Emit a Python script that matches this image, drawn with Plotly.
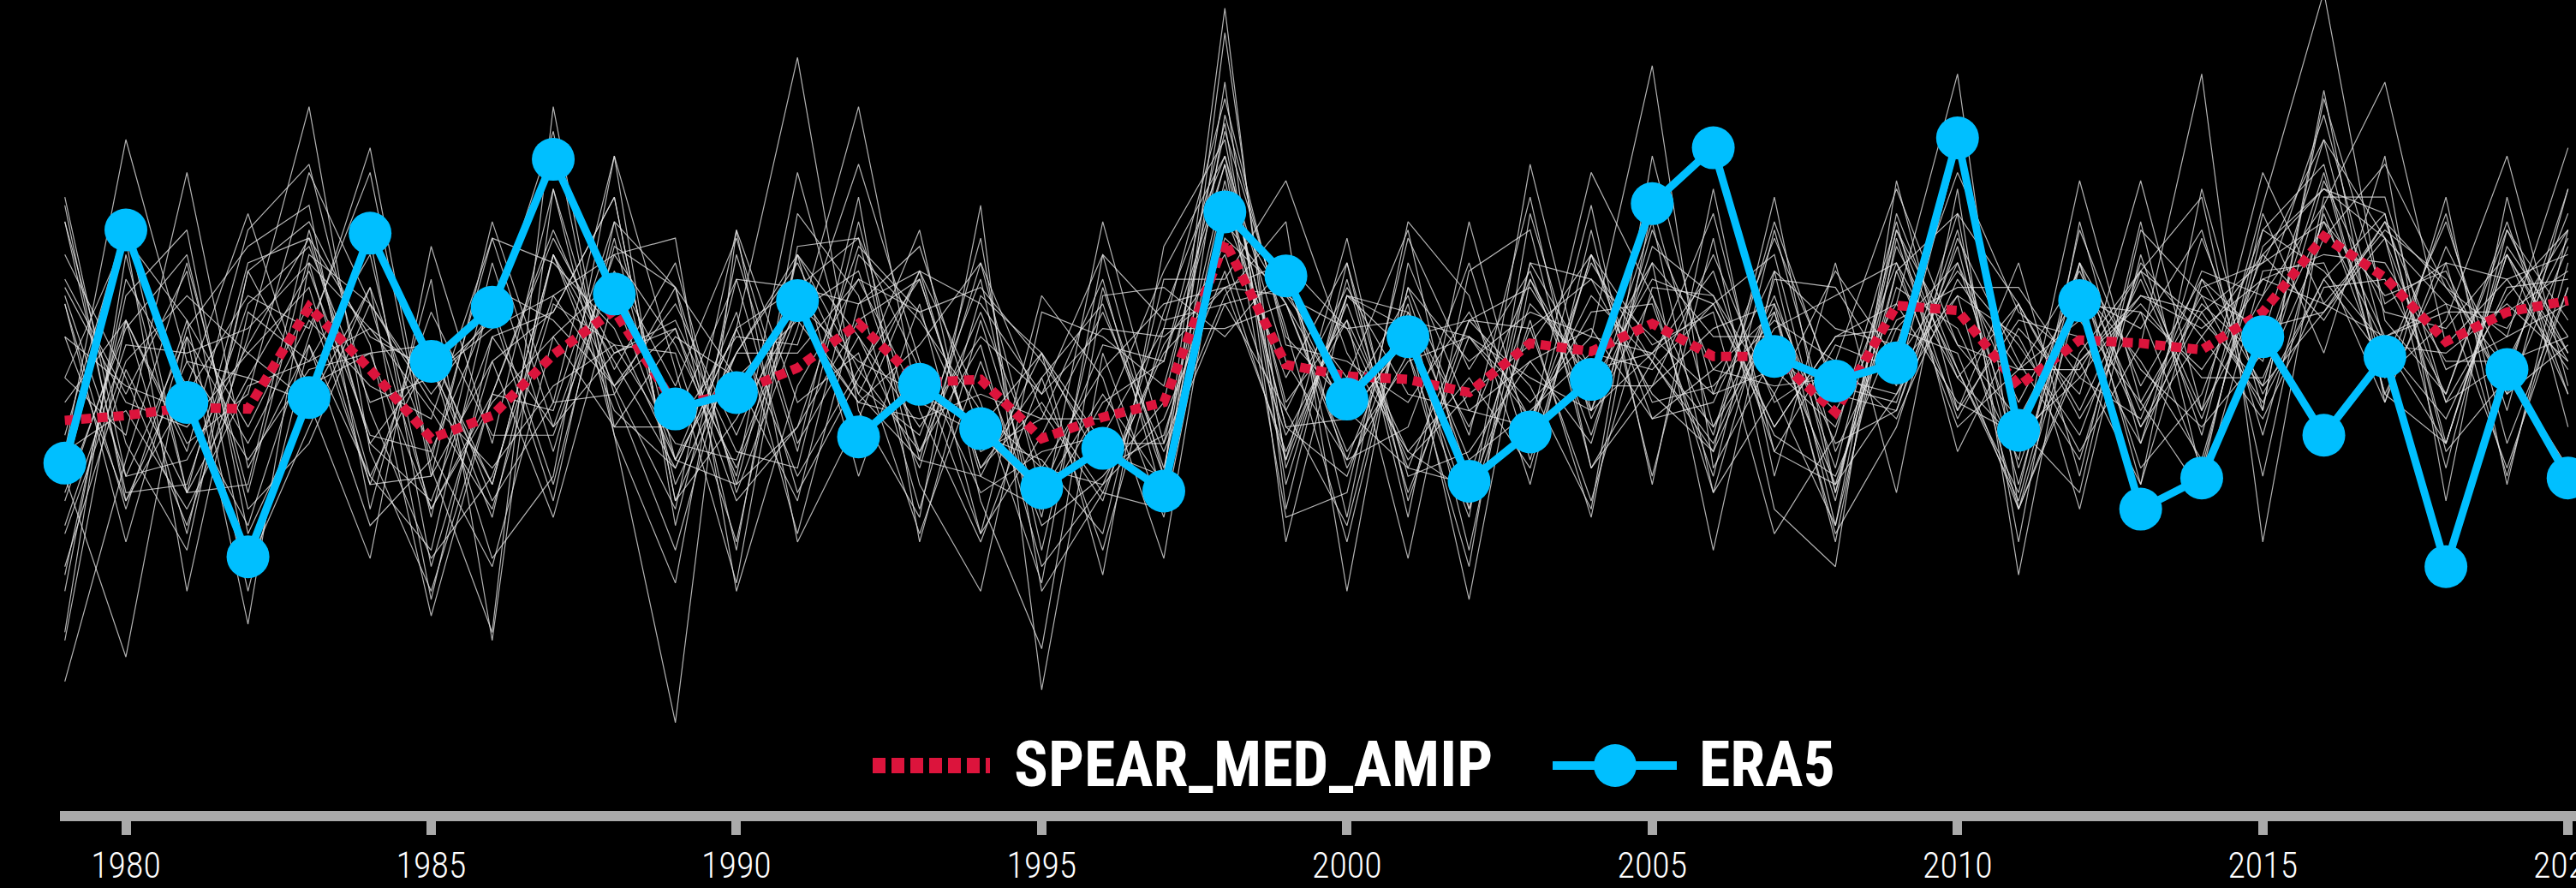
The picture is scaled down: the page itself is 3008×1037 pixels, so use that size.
import plotly.graph_objects as go

years = list(range(1979, 2021))

era5 = [-1.04, 1.80, -0.30, -2.18, -0.24, 1.76, 0.20, 0.86, 2.66, 1.02,
        -0.38, -0.18, 0.94, -0.72, -0.08, -0.62, -1.34, -0.86, -1.38, 2.02,
        1.24, -0.26, 0.50, -1.26, -0.66, -0.02, 2.12, 2.80, 0.26, -0.04,
        0.18, 2.92, -0.64, 0.94, -1.60, -1.22, 0.50, -0.70, 0.26, -2.30,
        0.10, -1.22]

spear_mean = [-0.52, -0.46, -0.36, -0.38, 0.86, 0.10, -0.74, -0.46, 0.28, 0.82,
              -0.34, -0.18, 0.12, 0.66, -0.06, -0.02, -0.74, -0.48, -0.30, 1.66,
              0.16, 0.02, -0.02, -0.18, 0.42, 0.32, 0.66, 0.26, 0.26, -0.42,
              0.88, 0.82, -0.10, 0.46, 0.42, 0.34, 0.80, 1.72, 1.22, 0.44,
              0.80, 0.94]

m01 = [1.5,0.0,-1.8,0.5,3.3,-0.9,-2.6,-0.2,1.8,0.1, 1.4,-1.4,0.6,3.3,-0.4,-2.0,0.0,0.9,-1.2,3.6, -2.0,1.0,0.3,-1.7,2.6,-0.4,1.9,-1.4,1.2,1.1, -0.1,2.8,-0.6,-1.4,1.8,1.0,-0.4,3.4,0.9,1.4, -1.2,1.4]
m02 = [-2.4,1.0,1.8,-1.9,-0.3,1.8,0.2,-2.2,-1.2,2.7, -1.8,1.2,-1.4,0.0,1.8,-1.5,-3.3,1.0,1.1,0.5, 1.4,-1.7,1.9,1.0,-1.3,1.8,-1.2,1.7,-1.6,-2.3, 2.4,-0.4,1.4,-1.2,1.9,-1.2,2.0,0.3,2.7,-1.5, 2.2,-0.6]
m03 = [0.9,-2.0,0.6,1.6,2.1,-1.6,1.2,-3.2,2.3,-0.2, 1.1,-2.1,2.0,1.0,-1.6,1.0,0.3,-2.4,1.6,2.9, -1.0,1.7,-1.5,0.7,-0.1,-1.6,2.7,-0.2,1.7,-0.1, -0.3,2.0,-2.0,1.9,-0.8,1.7,-0.2,1.2,0.2,1.9, -0.4,2.3]
m04 = [-1.2,1.7,-2.6,0.8,0.2,1.5,-1.7,1.4,-0.9,1.7, -1.3,0.3,1.5,-1.2,0.9,-1.9,1.0,0.0,-2.2,2.2, 0.9,-1.0,0.9,-2.1,1.4,1.2,-0.2,-0.9,2.2,-1.4, 1.6,0.1,-1.5,1.2,-1.1,-0.2,1.8,2.6,-0.2,-0.8, 1.5,0.2]
m05 = [2.2,-1.2,0.5,-3.0,1.4,0.6,0.0,0.7,3.0,-0.7, -2.5,1.5,-0.9,2.2,-2.0,0.7,-1.7,1.9,-0.8,1.0, 1.9,-2.6,1.4,-0.4,-0.6,2.5,1.0,-1.4,-0.2,1.3, 0.2,1.3,0.4,-0.7,1.3,2.2,-1.2,2.2,2.2,-0.3, 1.0,1.8]
m06 = [0.0,-0.7,2.5,-1.1,0.4,-1.8,-1.0,1.7,-0.6,0.3, 0.6,-1.2,2.5,-0.2,-1.0,1.7,-2.6,-1.4,0.4,1.5, -0.7,0.7,-2.2,1.3,1.8,-1.1,0.2,2.0,-0.9,-1.3, 1.1,0.6,-1.0,2.4,-0.3,-1.4,1.3,1.4,-0.3,1.6, 0.1,-1.1]
m07 = [-3.2,0.7,-0.9,1.8,2.6,-0.4,-2.2,-1.2,1.0,1.5, 1.7,-2.6,-0.1,1.2,0.8,-0.9,-0.5,1.2,-1.5,3.2, 0.5,-0.3,1.0,-1.2,0.9,0.1,1.4,-2.1,1.3,0.6, 0.4,2.5,0.8,0.2,-1.3,1.2,0.5,2.9,1.7,-1.1, 1.8,0.7]
m08 = [0.5,-1.5,-0.2,1.0,0.6,2.5,-1.2,0.2,-1.7,1.0, -1.0,0.8,-1.9,0.9,1.6,-0.7,-1.0,-1.9,1.2,1.2, 2.4,0.3,-0.9,0.0,-1.1,1.5,0.4,0.8,-1.9,-0.7, 1.9,-0.9,0.6,-0.2,2.4,-0.4,2.5,0.9,0.5,0.9, -1.1,1.1]
m09 = [-0.7,1.9,-1.4,-1.3,1.8,-0.8,0.2,-1.7,1.5,-0.1, 0.9,-0.7,1.1,1.7,-1.3,-2.6,0.8,0.5,-0.1,2.6, -1.7,-1.4,1.7,0.1,1.3,-0.7,1.6,1.0,-0.6,0.5, 0.6,0.3,-1.6,1.0,0.6,1.8,-0.7,2.0,0.0,0.7, 2.7,-0.1]
m10 = [1.2,-0.2,1.3,-2.3,-0.6,1.1,-2.7,0.5,0.8,2.2, -1.5,-0.5,0.8,-0.3,0.4,1.4,-1.4,-0.2,-1.3,2.0, 0.0,1.4,-1.2,-0.9,0.2,0.6,-0.5,0.1,0.8,-1.9, -0.6,1.7,0.2,-1.0,1.4,0.5,1.5,0.7,1.9,0.1, 0.5,2.8]
m11 = [-1.9,0.2,1.0,0.3,1.1,-1.3,0.8,-0.7,-0.7,1.3, -0.1,1.7,-0.8,0.5,-0.6,0.5,-0.2,1.5,0.7,0.9, 1.1,-0.5,0.5,-1.6,0.7,-1.7,2.1,-0.6,0.6,1.0, 1.4,0.0,-0.8,1.4,0.1,-0.6,0.3,1.9,1.0,1.3, -0.2,0.4]
m12 = [1.9,-0.8,-2.1,1.3,-0.1,0.3,-1.6,-0.3,0.5,-0.6, -0.6,0.5,0.4,2.6,0.2,-1.4,-0.9,-0.7,0.6,3.4, 0.4,0.2,-0.3,0.8,-0.5,0.8,0.9,-1.2,1.8,-0.9, 0.7,1.1,1.1,0.0,-0.5,1.3,1.0,3.2,0.4,-0.5, 1.1,1.2]
m13 = [-0.3,0.7,-0.8,-0.2,2.5,0.9,-0.3,-1.1,-0.1,0.4, 0.3,-2.0,1.5,0.1,-0.9,0.4,-2.3,-1.3,-0.5,1.3, -1.0,1.0,0.8,-0.6,1.2,-0.1,-0.1,1.5,-0.3,0.2, 2.3,0.4,-0.5,0.9,0.8,0.1,1.2,1.5,1.4,0.2, 0.2,0.5]
m14 = [-1.2,-3.4,0.5,-0.8,0.7,-0.1,-0.5,1.7,1.4,0.6, -1.0,-1.3,-0.6,1.6,0.8,1.1,0.2,-0.9,-1.2,1.9, 0.9,-0.9,0.2,0.5,0.0,-0.4,1.4,0.5,0.5,-1.3, -0.2,1.0,-1.6,0.3,1.3,0.7,-0.1,2.4,0.8,0.6, 1.5,-0.2]
m15 = [1.1,-0.3,-0.6,0.3,-0.3,1.7,-2.3,0.2,0.8,2.2, -1.5,0.3,0.3,1.2,-0.3,-0.7,-1.4,0.4,0.2,2.6, -0.3,0.7,-0.9,-1.4,0.6,1.2,0.5,-0.2,0.1,-0.6, 1.4,-0.6,0.1,0.7,-0.3,1.0,0.6,0.8,1.7,0.9, 0.6,1.8]
m16 = [-2.6,1.2,-0.1,2.0,-0.3,-2.2,1.6,-0.8,2.3,-0.7, -4.2,1.8,-2.0,-0.5,1.3,-0.3,-2.5,1.5,-1.2,4.5, -1.6,1.4,-1.7,1.9,-0.8,2.1,-1.3,2.3,-1.2,1.4, -1.4,2.3,-2.4,1.4,-1.3,2.3,-0.4,3.5,-0.3,2.2, -1.3,1.8]
m17 = [-3.7,-1.0,1.4,-1.4,1.5,0.9,-0.2,0.8,-1.5,1.9, 1.1,-1.3,1.5,0.5,-1.1,1.4,-0.4,-1.5,0.8,2.7, -0.4,-1.8,1.1,-0.7,2.2,-1.1,-0.1,0.6,0.9,-2.0, 1.7,-0.5,0.9,-1.6,1.5,-0.7,2.1,4.7,0.7,-0.2, 1.9,-0.2]
m18 = [0.9,-1.6,0.7,-0.6,0.9,-1.3,-1.2,1.9,-0.3,-0.2, -2.1,0.6,3.9,-0.4,-1.7,2.1,-3.8,0.3,-1.7,2.0, 1.3,-1.1,0.3,-2.3,2.0,-0.5,1.0,-0.7,1.9,-0.2, -0.4,1.8,-1.1,1.1,0.2,-1.0,1.6,2.3,2.0,-0.9, 0.0,2.3]
m19 = [-1.5,0.7,-1.9,1.3,1.9,0.4,-2.9,-0.2,1.7,0.3, 0.7,-0.9,-1.1,1.9,-1.0,-1.2,-1.6,-0.3,0.2,3.1, -1.3,1.2,-1.4,0.5,-0.3,0.5,3.8,-1.1,0.3,-0.4, 0.9,3.7,-1.6,0.2,0.9,0.0,0.0,1.7,2.6,1.1, 0.5,0.9]
m20 = [-3.1,1.5,-1.4,0.0,1.3,-0.7,-0.9,-2.3,0.5,1.2, -0.5,1.2,1.1,0.9,1.3,-1.2,0.3,-1.1,-0.7,1.7, 1.0,0.0,1.8,-1.6,1.4,0.1,0.3,1.3,-0.9,0.4, 0.1,1.0,0.5,-0.9,0.4,3.7,-2.0,2.1,3.6,0.4, 1.2,0.1]
m21 = [0.5,-0.1,-0.4,-1.8,0.5,2.8,-1.1,-3.1,3.3,-0.6, 0.5,0.0,0.7,-0.3,-0.5,-0.2,-0.5,-0.5,1.3,2.7, 0.2,-1.0,-0.6,1.4,-1.0,1.5,-0.5,-0.3,1.3,-1.8, 1.3,-0.4,0.7,0.5,-0.8,1.1,1.4,2.9,0.0,2.0, -0.8,1.1]
m22 = [-0.9,2.9,0.2,-1.0,0.1,0.3,0.4,-1.5,-0.3,2.7, 0.1,-2.5,1.6,1.7,0.1,-1.9,-0.7,0.8,-0.9,0.9, -0.4,1.1,-0.2,-0.4,0.2,-0.8,1.8,0.1,-0.1,0.0, -0.2,1.4,-0.3,1.1,-0.6,0.5,-0.5,1.1,1.2,-0.2, 1.8,0.3]
m23 = [1.9,-1.4,-1.3,0.9,1.6,-0.3,0.0,0.6,1.0,-0.1, -1.6,1.8,-0.3,0.3,-1.9,0.2,-1.8,-1.2,-0.3,3.0, 0.6,-2.0,1.1,0.2,0.8,0.5,0.3,-0.6,1.0,-1.1, 1.8,0.4,0.1,0.1,1.3,-0.4,1.0,2.1,0.5,0.8, 0.8,1.3]
m24 = [-1.4,0.6,1.5,-1.6,-0.8,0.9,-1.6,-0.2,-0.4,1.9, -1.0,0.3,1.4,-0.2,1.3,0.9,-0.2,0.6,0.5,1.1, -0.9,0.9,-1.1,-1.3,-0.6,1.4,0.2,-0.8,0.9,-0.8, -0.4,1.6,-1.3,1.4,-0.6,0.8,-0.3,1.2,2.0,-0.8, 1.5,0.3]
m25 = [-1.8,0.4,0.3,0.6,1.4,-1.2,0.3,-1.3,1.5,0.2, -1.1,0.6,-1.2,0.1,1.2,-1.1,-0.3,-1.4,-1.6,4.2, -1.1,1.0,0.6,-2.7,1.2,-0.4,0.3,0.9,-0.7,-1.2, 0.6,1.4,-0.8,0.2,1.0,0.6,1.2,0.9,1.8,1.2, -0.2,1.6]
m26 = [1.0,-1.2,-1.0,0.4,1.7,-0.8,-1.5,0.5,-0.6,1.5, 0.4,-1.1,0.8,1.3,-0.9,0.8,-1.1,-1.3,0.3,1.1, 1.0,0.6,0.7,0.5,-0.5,1.0,0.2,-0.9,0.8,-1.5, 1.8,0.0,0.9,-0.4,1.2,-0.5,1.5,2.3,1.7,-0.3, 0.2,1.7]
m27 = [0.0,1.7,0.7,-2.6,0.4,-1.2,-2.1,1.1,0.7,-0.1, 0.6,-1.5,-0.6,0.7,1.2,-1.1,0.0,-2.1,0.6,0.6, 0.9,-0.4,-1.1,0.7,0.6,-1.5,1.1,1.0,-0.2,-1.8, 2.0,0.1,-1.4,1.8,-0.1,1.2,-0.1,0.8,1.9,1.1, 0.1,2.0]
m28 = [-2.3,0.1,-1.4,1.4,1.7,0.5,0.1,-1.3,1.5,-0.4, -1.1,0.6,1.1,-0.1,-0.7,1.2,-2.1,1.1,-1.1,2.3, -0.6,-1.2,0.8,-1.0,-0.4,0.3,0.1,0.9,1.5,-1.4, 1.3,2.0,0.9,-0.5,0.8,-1.1,1.8,1.3,0.4,-0.8, 1.6,0.5]
m29 = [2.1,-1.5,0.2,0.0,-0.3,1.1,-0.9,0.9,-1.3,1.6, 1.1,0.0,-1.5,1.5,0.7,-0.4,-1.1,0.1,0.9,1.1, 1.4,0.6,-1.0,-0.2,0.4,1.5,-0.3,-0.1,0.7,0.2, -0.5,1.2,0.1,1.3,-0.4,0.9,0.2,2.5,-0.2,1.4, 1.2,1.5]
m30 = [-0.9,-0.4,-1.6,-0.1,0.2,0.6,-0.4,-1.6,0.9,0.4, -0.8,-1.0,0.9,0.2,-0.2,-0.6,0.3,-0.8,-0.8,2.4, -0.6,-0.5,0.5,0.7,1.1,-0.1,1.2,0.9,-0.6,0.5, 0.9,-0.3,-0.7,0.0,1.0,0.8,1.4,1.9,0.4,0.3, 0.9,0.2]

members = [m01, m02, m03, m04, m05, m06, m07, m08, m09, m10,
           m11, m12, m13, m14, m15, m16, m17, m18, m19, m20,
           m21, m22, m23, m24, m25, m26, m27, m28, m29, m30]

tick_vals = [1980, 1985, 1990, 1995, 2000, 2005, 2010, 2015, 2020]
tick_text = [str(v) for v in tick_vals]

for i, m in enumerate(members):
    assert len(m) == len(years), (i + 1, len(m))

W, H = 3008, 1037
ML, MR, MT, MB = 70, 0, 0, 90
PW, PH = W - ML - MR, H - MT - MB

def px(xp):
    return (xp - ML) / PW

def py(yp):
    return (H - MB - yp) / PH

COND = "Roboto Condensed, DejaVu Sans Condensed, Liberation Sans Narrow, Roboto, sans-serif"

fig = go.Figure()

for m in members:
    fig.add_trace(go.Scatter(
        x=years, y=m, mode="lines",
        line=dict(color="rgba(230,230,230,0.78)", width=1.2),
        hoverinfo="skip", showlegend=False))

fig.add_trace(go.Scatter(
    x=years, y=spear_mean, mode="lines", name="SPEAR_MED_AMIP",
    line=dict(color="#DC143C", width=11, dash="12px,7px"),
    showlegend=False))

fig.add_trace(go.Scatter(
    x=years, y=era5, mode="lines+markers", name="ERA5",
    line=dict(color="#00BFFF", width=9),
    marker=dict(color="#00BFFF", size=50),
    cliponaxis=False, showlegend=False))

# manual legend
ly = 894
shapes = [
    dict(type="line", xref="paper", yref="paper",
         x0=px(1019), x1=px(1156), y0=py(ly), y1=py(ly),
         line=dict(color="#DC143C", width=18, dash="15px,7px")),
    dict(type="line", xref="paper", yref="paper",
         x0=px(1813), x1=px(1958), y0=py(ly), y1=py(ly),
         line=dict(color="#00BFFF", width=10)),
    dict(type="circle", xref="paper", yref="paper",
         x0=px(1886 - 25), x1=px(1886 + 25), y0=py(ly + 25), y1=py(ly - 25),
         fillcolor="#00BFFF", line=dict(width=0)),
]
annotations = [
    dict(text="<b>SPEAR_MED_AMIP</b>", xref="paper", yref="paper",
         x=px(1182), y=py(ly - 2), xanchor="left", yanchor="middle", showarrow=False,
         font=dict(family=COND, size=74, color="white")),
    dict(text="<b>ERA5</b>", xref="paper", yref="paper",
         x=px(1982), y=py(ly - 2), xanchor="left", yanchor="middle", showarrow=False,
         font=dict(family=COND, size=74, color="white")),
]

fig.update_layout(
    width=W, height=H,
    margin=dict(l=ML, r=MR, t=MT, b=MB, pad=0),
    paper_bgcolor="black", plot_bgcolor="black",
    showlegend=False,
    shapes=shapes, annotations=annotations,
    xaxis=dict(range=[1978.92, 2020.13], showgrid=False, zeroline=False,
               showline=True, linecolor="#aaaaaa", linewidth=12,
               ticks="outside", ticklen=16, tickwidth=11, tickcolor="#aaaaaa",
               tickmode="array", tickvals=tick_vals, ticktext=tick_text,
               tickfont=dict(family=COND, size=42, color="white", weight=300),
               ticklabeloverflow="allow",
               automargin=False, fixedrange=True),
    yaxis=dict(range=[-5.275, 4.600], visible=False, showgrid=False,
               zeroline=False, fixedrange=True),
)

fig.write_html("out.html", config={"displayModeBar": False},
               post_script="document.body.style.margin='0';document.body.style.overflow='hidden';")
